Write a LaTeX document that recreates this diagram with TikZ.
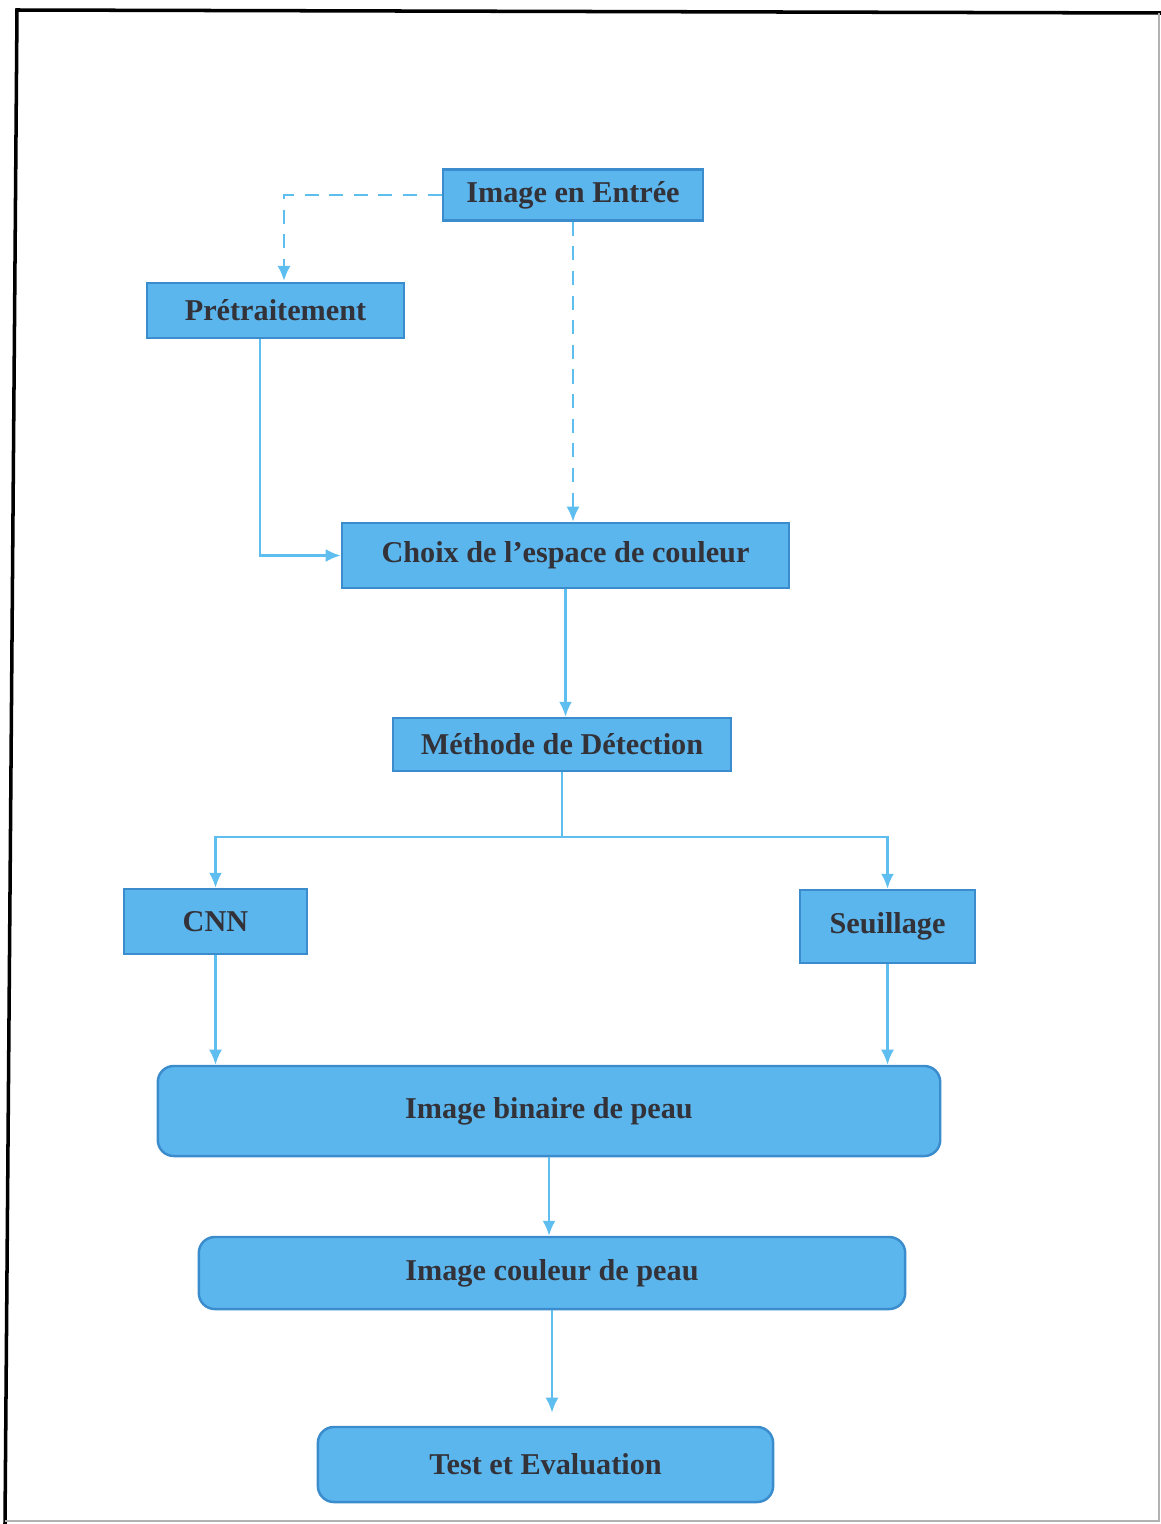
\documentclass[tikz,border=0pt]{standalone}
\usepackage{fontspec}
\setmainfont{Liberation Serif}
\usepackage{tikz}
\usetikzlibrary{arrows.meta}
\definecolor{boxfill}{RGB}{92,182,238}
\definecolor{boxline}{RGB}{58,140,205}
\definecolor{flow}{RGB}{95,190,240}
\definecolor{txt}{RGB}{50,50,56}

\begin{document}
\begin{tikzpicture}[x=0.01cm,y=-0.01cm,
		box/.style={draw=boxline,fill=boxfill,line width=0.7pt,text=txt,inner sep=0pt,
			font=\fontsize{8.6}{10}\selectfont\bfseries},
		rbox/.style={box,rounded corners=1.6mm},
		flowline/.style={draw=flow,line width=0.65pt,-{Latex[length=1.5mm,width=1.3mm]}}]
		\useasboundingbox (0,0) rectangle (1161,1524);
		
		% page frame
		\draw[line width=1pt] (5,1524) -- (17,10) -- (1161,13);
		\draw[gray!60,line width=0.4pt] (1159,13) -- (1159,1521) -- (5,1521);
		
		% boxes
		\node[box,minimum width=2.6cm,minimum height=0.51cm] (input) at (573,195) {Image en Entrée};
		\node[box,minimum width=2.57cm,minimum height=0.55cm] (pre) at (275.5,310.5) {Prétraitement};
		\node[box,minimum width=4.47cm,minimum height=0.65cm] (choix) at (565.5,555.5) {Choix de l’espace de couleur};
		\node[box,minimum width=3.38cm,minimum height=0.53cm] (methode) at (562,744.5) {Méthode de Détection};
		\node[box,minimum width=1.83cm,minimum height=0.65cm] (cnn) at (215.5,921.5) {CNN};
		\node[box,minimum width=1.75cm,minimum height=0.73cm] (seuil) at (887.5,926.5) {Seuillage};
		\node[rbox,minimum width=7.82cm,minimum height=0.9cm] (binaire) at (549,1111) {Image binaire de peau};
		\node[rbox,minimum width=7.06cm,minimum height=0.72cm] (couleur) at (552,1273) {Image couleur de peau};
		\node[rbox,minimum width=4.55cm,minimum height=0.75cm] (test) at (545.5,1464.5) {Test et Evaluation};
		
		% dashed links from the input
		\coordinate (preIn) at (284,281);
		\draw[flowline,dash pattern=on 4pt off 3pt] (input.west) -| (preIn);
		\draw[flowline,dash pattern=on 4pt off 3pt] (input.south) -- (input.south |- choix.north);
		
		% solid links
		\draw[flowline] ([xshift=-0.155cm]pre.south) |- (choix.west);
		\draw[flowline] (choix.south) -- (choix.south |- methode.north);
		\coordinate (split) at (562,837);
		\draw[flow,line width=0.65pt] (methode.south) -- (split);
		\draw[flowline] (split) -| (cnn.north);
		\draw[flowline] (split) -| (seuil.north);
		\draw[flowline] (cnn.south) -- (cnn.south |- binaire.north);
		\draw[flowline] (seuil.south) -- (seuil.south |- binaire.north);
		\draw[flowline] (binaire.south) -- (binaire.south |- couleur.north);
		\draw[flowline,shorten >=1.3mm] (couleur.south) -- (couleur.south |- test.north);
	\end{tikzpicture}
\end{document}
